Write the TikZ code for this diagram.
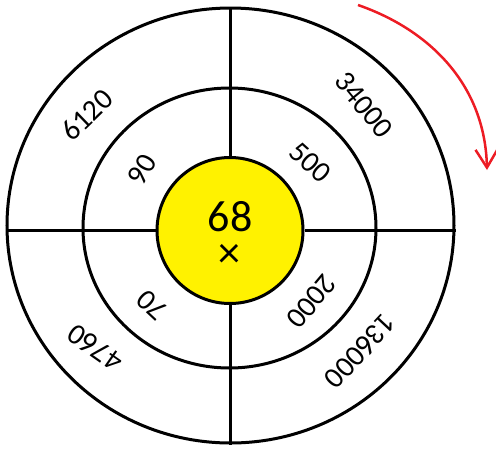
\documentclass[tikz,border=0pt]{standalone}
\usepackage{fontspec}
\setmainfont{Carlito}
\usepackage{tikz}
\usetikzlibrary{shapes.geometric,arrows.meta}
\definecolor{ringyellow}{RGB}{255,242,0}
\definecolor{arrowred}{RGB}{237,28,36}

\begin{document}
\begin{tikzpicture}[x=1pt,y=-1pt,
  ring/.style={shape=ellipse,draw=black,line width=3pt,inner sep=0pt},
  spoke/.style={draw=black,line width=3pt},
  num/.style={font=\fontsize{29.5}{30}\selectfont,inner sep=0pt}]
\useasboundingbox (0,0) rectangle (496,448);
\node[ring,minimum width=447pt,minimum height=435pt] (outer) at (230.5,225.5) {};
\node[ring,minimum width=293pt,minimum height=280pt] (middle) at (229.5,228) {};
\node[ring,fill=ringyellow,minimum size=146pt] (inner) at (230,230.5) {};
\draw[spoke] (inner.north) -- (inner.north |- outer.north);
\draw[spoke] (inner.south) -- (inner.south |- outer.south);
\draw[spoke] (inner.west) -- (inner.west -| outer.west);
\draw[spoke] (inner.east) -- (inner.east -| outer.east);
% centre
\node[font=\fontsize{44}{44}\selectfont,inner sep=0pt] (product) at (230,217) {68};
\node[font=\fontsize{44}{44}\selectfont,inner sep=0pt] (times) at (229,256) {×};
% inner ring
\node[num,rotate=60] (n90) at (142,170) {90};
\node[num,rotate=-42] (n500) at (310.5,162.5) {500};
\node[num,rotate=230] (n2000) at (311.5,301.5) {2000};
\node[num,rotate=137] (n70) at (152,305) {70};
% outer ring
\node[num,rotate=44] (n6120) at (87,115) {6120};
\node[num,rotate=-51] (n34000) at (364,105) {34000};
\node[num,rotate=227] (n136000) at (360.5,351.5) {136000};
\node[num,rotate=145] (n4760) at (95,348) {4760};
% direction
\coordinate (arrowstart) at (358,5);
\coordinate (arrowend) at (487,170);
\draw[arrowred,line width=2.5pt,-{Straight Barb[length=18pt,width=22pt]}] (arrowstart) .. controls (430,30) and (485,85) .. (arrowend);
\end{tikzpicture}
\end{document}
